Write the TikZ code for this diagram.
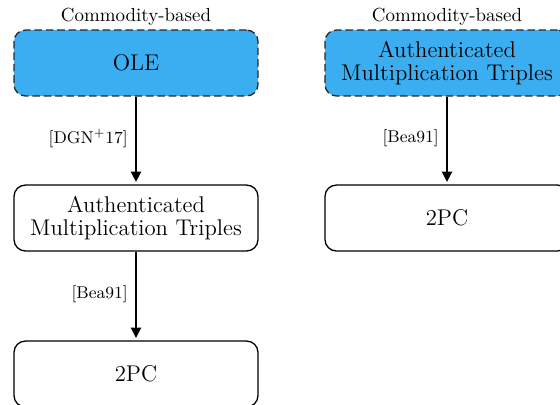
\documentclass[tikz,border=0pt]{standalone}
\usetikzlibrary{arrows.meta}
\definecolor{boxblue}{RGB}{59,174,241}
\definecolor{dashgray}{RGB}{40,40,40}
\begin{document}
\begin{tikzpicture}[x=0.528pt,y=-0.528pt,
  box/.style={draw, rounded corners=6pt, line width=0.7pt, minimum width=128.8pt, minimum height=34.8pt, align=center, font=\large, inner sep=0pt},
  commodity/.style={box, fill=boxblue, draw=dashgray, dash pattern=on 4pt off 2pt},
  toplabel/.style={font=\normalsize},
  arr/.style={-{Triangle[length=5.5pt,width=5.5pt]}, line width=0.7pt, shorten >=1.3pt},
  cite/.style={font=\small, anchor=east, inner sep=0pt, xshift=-4pt}]
\useasboundingbox (0,0) rectangle (560,404);
% left column
\node[toplabel] (lc) at (136,17) {Commodity-based};
\node[commodity] (ole) at (136,63) {OLE};
\node[box] (amt) at (136,218) {Authenticated\\[-2pt]Multiplication Triples};
\node[box] (pc) at (136,374) {2PC};
\draw[arr] (ole) -- node[cite, yshift=1pt] {[DGN$^{+}$17]} (amt);
\draw[arr] (amt) -- node[cite, yshift=1pt] {[Bea91]} (pc);
% right column
\node[toplabel] (rc) at (447,17) {Commodity-based};
\node[commodity] (ramt) at (447,63) {Authenticated\\[-2pt]Multiplication Triples};
\node[box] (rpc) at (447,218) {2PC};
\draw[arr] (ramt) -- node[cite, yshift=1pt] {[Bea91]} (rpc);
\end{tikzpicture}
\end{document}
